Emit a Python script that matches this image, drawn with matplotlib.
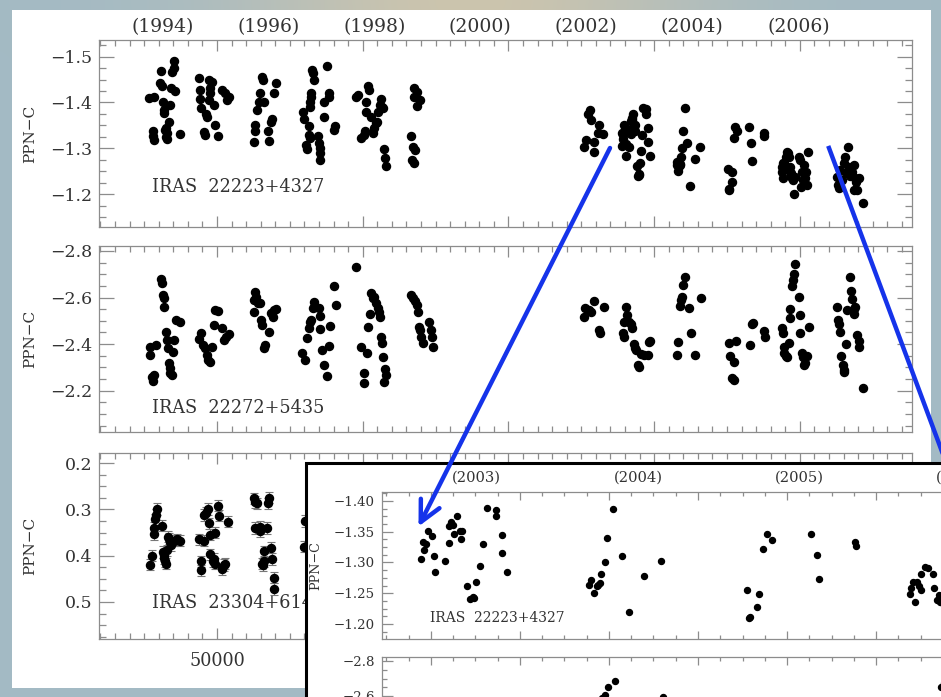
import numpy as np
import matplotlib.pyplot as plt
import matplotlib.transforms as mtransforms
from matplotlib.patches import Rectangle, FancyArrowPatch
from matplotlib.lines import Line2D
from matplotlib.ticker import MultipleLocator, FuncFormatter

plt.rcParams['font.family'] = ['DejaVu Serif']
plt.rcParams['axes.unicode_minus'] = True

# IRAS 22223+4327  (HJD - 2400000, PPN - C)
jd_22223 = [
    49531, 49565, 49561, 49561, 49565, 49615, 49611, 49622, 49629, 49634, 49638, 49675,
    49668, 49652, 49657, 49647, 49657, 49684, 49714, 49691, 49707, 49702, 49748, 49645,
    49874, 49881, 49885, 49892, 49908, 49920, 49927, 49931, 49943, 49949, 49943, 49954,
    49965, 49977, 49988, 50004, 50034, 50057, 50080, 50068,
    50251, 50263, 50263, 50274, 50286, 50293, 50309, 50316, 50325, 50348, 50355, 50377,
    50370, 50389, 50407,
    50590, 50599, 50613, 50618, 50629, 50629, 50636, 50640, 50640, 50645, 50645, 50654,
    50659, 50663, 50691, 50698, 50705, 50709, 50709, 50732, 50737, 50755, 50766, 50769,
    50801, 50812,
    50956, 50965, 50988, 51007, 51018, 51025, 51034, 51043, 51025, 51057, 51071, 51080,
    51089, 51098, 51103, 51116, 51125, 51132, 51139, 51148, 51155, 51157,
    51354, 51374, 51354, 51395, 51374, 51333, 51345, 51361, 51337, 51354,
    52521, 52530, 52544, 52557, 52566, 52585, 52585, 52619, 52612, 52649,
    52778, 52783, 52785, 52789, 52793, 52803, 52807, 52810, 52831, 52840, 52841, 52846,
    52849, 52852, 52858, 52865, 52867, 52869, 52882, 52888, 52894, 52897, 52901, 52910,
    52916, 52927, 52946, 52946, 52959, 52960, 52971,
    53154, 53159, 53166, 53172, 53176, 53180, 53183, 53191, 53195, 53210, 53229, 53244,
    53279, 53317,
    53510, 53515, 53517, 53532, 53536, 53547, 53554, 53566, 53654, 53667, 53671, 53753,
    53755,
    53876, 53879, 53883, 53888, 53891, 53897, 53900, 53902, 53909, 53916, 53928, 53931,
    53937, 53943, 53941, 53953, 53958, 53969, 53992, 54003, 54008, 54015, 54022, 54031,
    54038, 54045, 54054, 54047,
    54255, 54260, 54267, 54278, 54289, 54301, 54312, 54319, 54328, 54335, 54347, 54358,
    54369, 54381, 54388, 54374, 54392, 54404, 54434,
]
mag_22223 = [
    -1.409, -1.413, -1.337, -1.326, -1.319, -1.469, -1.443, -1.435, -1.402, -1.384, -1.378, -1.395,
    -1.358, -1.344, -1.333, -1.324, -1.320, -1.431, -1.424, -1.467, -1.474, -1.491, -1.332, -1.340,
    -1.453, -1.427, -1.407, -1.387, -1.335, -1.329, -1.375, -1.368, -1.449, -1.420, -1.406, -1.431,
    -1.445, -1.395, -1.351, -1.327, -1.427, -1.420, -1.411, -1.406,
    -1.315, -1.337, -1.351, -1.384, -1.402, -1.420, -1.455, -1.448, -1.402, -1.337, -1.317, -1.363,
    -1.358, -1.420, -1.442,
    -1.380, -1.364, -1.308, -1.298, -1.348, -1.329, -1.322, -1.391, -1.402, -1.413, -1.420, -1.471,
    -1.464, -1.449, -1.327, -1.311, -1.300, -1.291, -1.274, -1.369, -1.402, -1.479, -1.421, -1.413,
    -1.340, -1.349,
    -1.413, -1.416, -1.322, -1.329, -1.337, -1.402, -1.435, -1.427, -1.380, -1.368, -1.333, -1.344,
    -1.355, -1.358, -1.380, -1.395, -1.407, -1.391, -1.387, -1.298, -1.279, -1.262,
    -1.431, -1.423, -1.413, -1.405, -1.392, -1.326, -1.304, -1.297, -1.275, -1.269,
    -1.304, -1.318, -1.375, -1.384, -1.362, -1.293, -1.315, -1.352, -1.333, -1.331,
    -1.305, -1.334, -1.320, -1.330, -1.352, -1.343, -1.310, -1.284, -1.303, -1.332, -1.359, -1.366,
    -1.361, -1.347, -1.376, -1.352, -1.338, -1.352, -1.261, -1.241, -1.244, -1.243, -1.268, -1.294,
    -1.330, -1.388, -1.386, -1.375, -1.344, -1.315, -1.284,
    -1.263, -1.271, -1.250, -1.261, -1.263, -1.266, -1.281, -1.301, -1.339, -1.387, -1.311, -1.219,
    -1.278, -1.303,
    -1.255, -1.209, -1.212, -1.227, -1.249, -1.322, -1.346, -1.337, -1.346, -1.312, -1.273, -1.334,
    -1.326,
    -1.248, -1.259, -1.268, -1.236, -1.268, -1.262, -1.256, -1.282, -1.292, -1.291, -1.281, -1.259,
    -1.239, -1.236, -1.247, -1.231, -1.201, -1.237, -1.282, -1.275, -1.217, -1.249, -1.231, -1.264,
    -1.235, -1.249, -1.293, -1.220,
    -1.237, -1.220, -1.213, -1.253, -1.231, -1.268, -1.282, -1.246, -1.304, -1.260, -1.239, -1.249,
    -1.264, -1.235, -1.228, -1.210, -1.210, -1.235, -1.181,
]

# IRAS 22272+5435
jd_22272 = [
    49538, 49542, 49583, 49554, 49561, 49565, 49615, 49622, 49629, 49634, 49638, 49652,
    49657, 49661, 49668, 49675, 49679, 49691, 49698, 49707, 49721, 49744,
    49874, 49890, 49904, 49920, 49931, 49936, 49949, 49965, 49981, 49988, 50004, 50034,
    50050, 50064, 50080,
    50251, 50256, 50263, 50270, 50279, 50297, 50302, 50309, 50320, 50332, 50355, 50370,
    50384, 50393, 50407,
    50583, 50606, 50618, 50629, 50636, 50645, 50659, 50668, 50698, 50705, 50709, 50721,
    50732, 50755, 50769, 50773, 50801, 50819,
    50956, 50988, 51011, 51011, 51029, 51038, 51048, 51057, 51071, 51080, 51093, 51103,
    51112, 51121, 51125, 51132, 51139, 51155, 51157, 51148,
    51333, 51347, 51361, 51375, 51382, 51388, 51395, 51402, 51416, 51457, 51471, 51478,
    51485,
    52521, 52528, 52550, 52566, 52585, 52619, 52626, 52653,
    52786, 52791, 52795, 52809, 52814, 52825, 52841, 52848, 52864, 52871, 52878, 52887,
    52896, 52910, 52928, 52955, 52962, 52974,
    53157, 53161, 53180, 53184, 53191, 53198, 53214, 53237, 53253, 53283, 53322,
    53511, 53523, 53534, 53546, 53550, 53564, 53660, 53672, 53678, 53756, 53763,
    53878, 53884, 53889, 53894, 53903, 53912, 53923, 53930, 53935, 53946, 53953, 53962,
    53969, 53992, 53999, 54003, 54015, 54022, 54031, 54038, 54049, 54061,
    54255, 54260, 54267, 54273, 54285, 54296, 54301, 54305, 54319, 54324, 54342, 54351,
    54358, 54369, 54374, 54381, 54392, 54404, 54406, 54434,
]
mag_22272 = [
    -2.386, -2.353, -2.396, -2.260, -2.243, -2.268, -2.678, -2.661, -2.611, -2.597, -2.558, -2.454,
    -2.418, -2.382, -2.318, -2.296, -2.275, -2.268, -2.368, -2.418, -2.504, -2.496,
    -2.421, -2.446, -2.396, -2.382, -2.353, -2.332, -2.325, -2.386, -2.482, -2.546, -2.542, -2.468,
    -2.418, -2.429, -2.444,
    -2.539, -2.589, -2.625, -2.604, -2.575, -2.575, -2.504, -2.482, -2.382, -2.396, -2.454, -2.532,
    -2.518, -2.546, -2.549,
    -2.361, -2.332, -2.425, -2.468, -2.496, -2.504, -2.554, -2.582, -2.554, -2.521, -2.464, -2.375,
    -2.310, -2.263, -2.392, -2.478, -2.650, -2.568,
    -2.732, -2.386, -2.278, -2.235, -2.361, -2.475, -2.529, -2.621, -2.597, -2.604, -2.575, -2.554,
    -2.539, -2.518, -2.432, -2.403, -2.343, -2.292, -2.268, -2.239,
    -2.611, -2.597, -2.587, -2.568, -2.539, -2.475, -2.461, -2.432, -2.404, -2.497, -2.461, -2.432,
    -2.389,
    -2.515, -2.554, -2.546, -2.539, -2.587, -2.461, -2.449, -2.558,
    -2.446, -2.429, -2.496, -2.561, -2.525, -2.496, -2.486, -2.468, -2.401, -2.382, -2.375, -2.310,
    -2.303, -2.358, -2.353, -2.353, -2.411, -2.415,
    -2.353, -2.411, -2.564, -2.589, -2.604, -2.654, -2.687, -2.554, -2.446, -2.353, -2.597,
    -2.403, -2.349, -2.253, -2.246, -2.325, -2.415, -2.396, -2.486, -2.489, -2.458, -2.429,
    -2.468, -2.446, -2.389, -2.361, -2.349, -2.343, -2.403, -2.511, -2.549, -2.650, -2.675, -2.701,
    -2.744, -2.601, -2.525, -2.449, -2.361, -2.346, -2.310, -2.318, -2.349, -2.472,
    -2.561, -2.504, -2.486, -2.453, -2.349, -2.310, -2.289, -2.282, -2.401, -2.546, -2.690, -2.629,
    -2.592, -2.549, -2.529, -2.558, -2.439, -2.415, -2.386, -2.210,
]

# IRAS 23304+6147 (visible part)
jd_23304 = [
    49542, 49554, 49565, 49570, 49577, 49583, 49588, 49622, 49629, 49634, 49638, 49645,
    49652, 49657, 49661, 49668, 49675, 49684, 49691, 49707, 49725, 49748,
    49874, 49890, 49890, 49908, 49913, 49927, 49936, 49943, 49949, 49954, 49972, 49981,
    49988, 49988, 50004, 50011, 50034, 50050, 50057, 50073,
    50256, 50263, 50274, 50263, 50293, 50297, 50309, 50316, 50325, 50325, 50343, 50348,
    50355, 50370, 50377, 50393, 50389,
    50595, 50606,
]
mag_23304 = [
    0.419, 0.400, 0.354, 0.340, 0.321, 0.311, 0.299, 0.335, 0.392, 0.399, 0.406, 0.412,
    0.417, 0.388, 0.359, 0.363, 0.371, 0.377, 0.368, 0.368, 0.364, 0.368,
    0.364, 0.412, 0.431, 0.368, 0.312, 0.307, 0.299, 0.330, 0.355, 0.397, 0.412, 0.407,
    0.417, 0.350, 0.292, 0.314, 0.429, 0.420, 0.417, 0.327,
    0.276, 0.284, 0.287, 0.340, 0.347, 0.338, 0.417, 0.420, 0.412, 0.390, 0.340, 0.287,
    0.275, 0.383, 0.407, 0.448, 0.472,
    0.381, 0.325,
]
err_23304 = 0.012

year_labels = ['(1994)', '(1996)', '(1998)', '(2000)', '(2002)', '(2004)', '(2006)']
year_jd = [49625, 50352, 51080, 51807, 52535, 53262, 53990]
inset_year_labels = ['(2003)', '(2004)', '(2005)', '(2006)']
inset_year_jd = [52901, 53265, 53627, 53990]

W, H = 941, 697
fig = plt.figure(figsize=(W / 100, H / 100), dpi=100)

# blurred slide background behind the white sheet
bg = fig.add_axes([0, 0, 1, 1], zorder=-10)
gx = np.linspace(0, 1, 64)
gy = np.linspace(0, 1, 48)
GX, GY = np.meshgrid(gx, gy)
blue_grey = np.array([0.64, 0.73, 0.77])
beige = np.array([0.80, 0.77, 0.68])
warm = np.exp(-((GX - 0.5) / 0.25) ** 2) * np.exp(-(GY / 0.15) ** 2)
img = blue_grey[None, None, :] * (1 - warm[..., None]) + beige[None, None, :] * warm[..., None]
bg.imshow(img, extent=[0, 1, 1, 0], aspect='auto', interpolation='bicubic')
bg.set_axis_off()

fig.add_artist(Rectangle((12 / W, 1 - 688 / H), (931 - 12) / W, (688 - 10) / H,
                         transform=fig.transFigure, facecolor='white', edgecolor='none', zorder=-5))

GREY = '#8c8c8c'
TXT = '#333333'


def fmt(decimals):
    return FuncFormatter(lambda v, p: f'{v:.{decimals}f}'.replace('-', '\u2212'))


def style(ax, xmaj, xmin, ymaj, ymin, dec, lsize, small=False):
    ax.xaxis.set_major_locator(MultipleLocator(xmaj))
    ax.xaxis.set_minor_locator(MultipleLocator(xmin))
    ax.yaxis.set_major_locator(MultipleLocator(ymaj))
    ax.yaxis.set_minor_locator(MultipleLocator(ymin))
    ax.yaxis.set_major_formatter(fmt(dec))
    ax.tick_params(which='both', direction='in', top=True, right=True, color=GREY,
                   labelcolor=TXT, labelsize=lsize, width=0.9)
    k = 0.75 if small else 1.0
    ax.tick_params(axis='y', which='major', length=11 * k, pad=5)
    ax.tick_params(axis='y', which='minor', length=5 * k)
    ax.tick_params(axis='x', which='major', length=8 * k, pad=6)
    ax.tick_params(axis='x', which='minor', length=4 * k)
    for s in ax.spines.values():
        s.set_color(GREY)
        s.set_linewidth(0.9)


def fax(left, top, right, bottom):
    return [left / W, 1 - bottom / H, (right - left) / W, (bottom - top) / H]


x0, x1 = 49190, 54770

ax1 = fig.add_axes(fax(99, 40, 912, 227))
ax1.plot(jd_22223, mag_22223, 'o', color='black', ms=5.8, mec='black')
ax1.set_xlim(x0, x1)
ax1.set_ylim(-1.129, -1.536)
style(ax1, 1000, 100, 0.1, 0.025, 1, 12.5)
ax1.tick_params(labelbottom=False)
ax1.set_ylabel('PPN\u2212C', fontsize=11, color=TXT)
ax1.yaxis.set_label_coords(-0.076, 0.5)
ax1.text(0.065, 0.214, 'IRAS  22223+4327', transform=ax1.transAxes, fontsize=12.7,
         color=TXT, va='center')
tr = mtransforms.blended_transform_factory(ax1.transData, ax1.transAxes)
for lab, xj in zip(year_labels, year_jd):
    ax1.text(xj, 1.07, lab, transform=tr, ha='center', va='center', fontsize=13.5, color=TXT)

ax2 = fig.add_axes(fax(99, 246, 912, 432))
ax2.plot(jd_22272, mag_22272, 'o', color='black', ms=5.8, mec='black')
ax2.set_xlim(x0, x1)
ax2.set_ylim(-2.023, -2.821)
style(ax2, 1000, 100, 0.2, 0.05, 1, 12.5)
ax2.tick_params(labelbottom=False)
ax2.set_ylabel('PPN\u2212C', fontsize=11, color=TXT)
ax2.yaxis.set_label_coords(-0.076, 0.5)
ax2.text(0.065, 0.129, 'IRAS  22272+5435', transform=ax2.transAxes, fontsize=12.7,
         color=TXT, va='center')

ax3 = fig.add_axes(fax(99, 453, 912, 639))
ax3.errorbar(jd_23304, mag_23304, yerr=err_23304, fmt='o', color='black', ms=5.8,
             ecolor='#777777', elinewidth=0.8, capsize=3, capthick=0.8)
ax3.set_xlim(x0, x1)
ax3.set_ylim(0.580, 0.178)
style(ax3, 1000, 100, 0.1, 0.025, 1, 12.5)
# labels right of x=306 px sit under the inset box anyway
ax3.xaxis.set_major_formatter(FuncFormatter(lambda v, p: f'{v:.0f}' if v < 50500 else ''))
ax3.tick_params(axis='x', labelsize=12.7, pad=9)
ax3.set_ylabel('PPN\u2212C', fontsize=11, color=TXT)
ax3.yaxis.set_label_coords(-0.076, 0.5)
ax3.text(0.065, 0.194, 'IRAS  23304+6147', transform=ax3.transAxes, fontsize=12.7,
         color=TXT, va='center')

# inset (zoom on 2003-2006)
fig.add_artist(Rectangle((306 / W, -0.2), 1.0, 1 - 463 / H + 0.2, transform=fig.transFigure,
                         facecolor='white', edgecolor='black', linewidth=2.2, zorder=2))

ix0, ix1 = 52690, 54483
ia = fig.add_axes(fax(382, 492, 1180, 639))
ia.set_zorder(3)
ia.plot(jd_22223, mag_22223, 'o', color='black', ms=4.3, mec='black')
ia.set_xlim(ix0, ix1)
ia.set_ylim(-1.1756, -1.4146)
style(ia, 200, 50, 0.05, 0.0125, 2, 9.6, small=True)
ia.tick_params(labelbottom=False)
ia.set_ylabel('PPN\u2212C', fontsize=9.2, color=TXT)
ia.yaxis.set_label_coords(-0.075, 0.5)
ia.text(0.060, 0.143, 'IRAS  22223+4327', transform=ia.transAxes, fontsize=10,
        color=TXT, va='center')
itr = mtransforms.blended_transform_factory(ia.transData, ia.transAxes)
for lab, xj in zip(inset_year_labels, inset_year_jd):
    ia.text(xj, 1.10, lab, transform=itr, ha='center', va='center', fontsize=10.6, color=TXT)

ib = fig.add_axes(fax(382, 657, 1180, 804))
ib.set_zorder(3)
ib.plot(jd_22272, mag_22272, 'o', color='black', ms=4.3, mec='black')
ib.set_xlim(ix0, ix1)
ib.set_ylim(-1.983, -2.823)
style(ib, 200, 50, 0.2, 0.05, 1, 9.6, small=True)
ib.tick_params(labelbottom=False)

# blue pointers
BLUE = '#1533ea'
fig.add_artist(FancyArrowPatch((610 / W, 1 - 148 / H), (418.5 / W, 1 - 526.5 / H),
                               transform=fig.transFigure, arrowstyle='->,head_length=1.5,head_width=0.75',
                               mutation_scale=10, color=BLUE, lw=3.2, zorder=10,
                               shrinkA=0, shrinkB=0))
fig.add_artist(Line2D([829 / W, 960 / W], [1 - 148 / H, 1 - 500 / H], transform=fig.transFigure,
                      color=BLUE, lw=3.2, zorder=10))

fig.savefig('out.png', dpi=100)
